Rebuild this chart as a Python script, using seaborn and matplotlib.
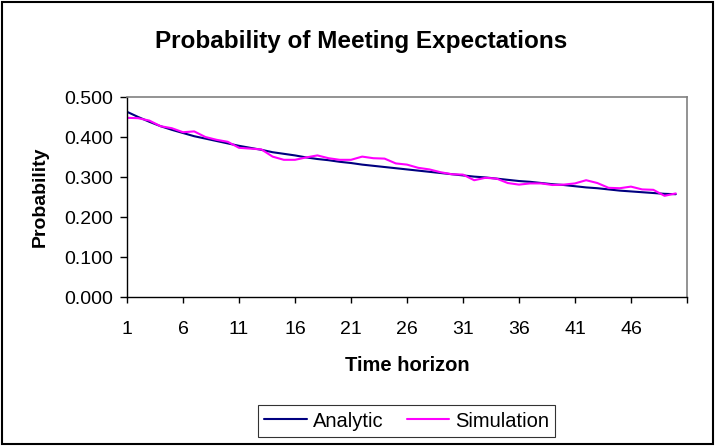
import pandas as pd
import numpy as np
import matplotlib
matplotlib.use("Agg")
import matplotlib.pyplot as plt
import seaborn as sns
from matplotlib.patches import Rectangle
from matplotlib.ticker import FormatStrFormatter

# values
horizon = list(range(1, 51))
analytic = [0.463, 0.450, 0.438, 0.427, 0.418, 0.410, 0.402, 0.396, 0.390, 0.384,
            0.378, 0.373, 0.368, 0.362, 0.358, 0.354, 0.349, 0.345, 0.342, 0.338,
            0.335, 0.331, 0.328, 0.325, 0.322, 0.319, 0.316, 0.313, 0.310, 0.307,
            0.304, 0.301, 0.299, 0.296, 0.293, 0.290, 0.288, 0.285, 0.282, 0.280,
            0.277, 0.274, 0.272, 0.269, 0.266, 0.264, 0.262, 0.260, 0.258, 0.257]
simulation = [0.448, 0.447, 0.441, 0.427, 0.422, 0.412, 0.414, 0.400, 0.393, 0.388,
              0.373, 0.371, 0.369, 0.351, 0.343, 0.343, 0.349, 0.354, 0.347, 0.343,
              0.343, 0.351, 0.347, 0.346, 0.334, 0.331, 0.323, 0.319, 0.312, 0.307,
              0.306, 0.292, 0.298, 0.296, 0.285, 0.281, 0.284, 0.284, 0.280, 0.281,
              0.284, 0.292, 0.285, 0.273, 0.272, 0.276, 0.269, 0.268, 0.253, 0.259]
series_names = ["Analytic", "Simulation"]
series_colors = ["#000080", "#FF00FF"]

df = pd.DataFrame({"horizon": horizon * 2,
                   "prob": analytic + simulation,
                   "series": ["Analytic"] * 50 + ["Simulation"] * 50})

sns.set_style("white")
plt.rcParams['font.family'] = ['Liberation Sans', 'DejaVu Sans']
plt.rcParams.update({'text.color': 'black', 'axes.labelcolor': 'black',
                     'xtick.color': 'black', 'ytick.color': 'black'})

fig = plt.figure(figsize=(7.16, 4.46), dpi=100)
ax = fig.add_axes([0.1774, 0.334, 0.782, 0.4485])

sns.lineplot(data=df, x="horizon", y="prob", hue="series", hue_order=series_names,
             palette=series_colors, linewidth=1.5, ax=ax, legend=False)

ax.set_xlim(1, 51)
ax.set_ylim(0, 0.5)
ax.set_xticks(range(1, 52, 5))
ax.set_xticklabels([str(t) for t in range(1, 47, 5)] + [""])
ax.set_yticks(np.arange(0, 0.51, 0.1))
ax.yaxis.set_major_formatter(FormatStrFormatter('%.3f'))
ax.tick_params(axis='x', direction='out', length=4, width=1, labelsize=14, pad=13, bottom=True)
ax.tick_params(axis='y', direction='out', length=5, width=1, labelsize=14, pad=5, left=True)

for side in ['left', 'bottom']:
    ax.spines[side].set_color('black')
    ax.spines[side].set_linewidth(1)
for side in ['top', 'right']:
    ax.spines[side].set_color('#808080')
    ax.spines[side].set_linewidth(1.2)
    ax.spines[side].set_visible(True)

ax.set_xlabel("Time horizon", fontsize=14.5, fontweight='bold')
ax.xaxis.set_label_coords(0.5, -0.34)
ax.xaxis.label.set_va('center')
ax.set_ylabel("Probability", fontsize=14, fontweight='bold')
ax.yaxis.set_label_coords(-0.155, 0.5)
ax.yaxis.label.set_va('center')
ax.yaxis.label.set_ha('center')

fig.text(0.504, 0.892, "Probability of Meeting Expectations", fontsize=17.5,
         fontweight='bold', ha='center', va='baseline')

handles = [plt.Line2D([], [], color=c, lw=1.5) for c in series_colors]
leg = fig.legend(handles, series_names, loc='center', bbox_to_anchor=(0.568, 0.056),
                 ncol=2, fontsize=14.5, frameon=True, fancybox=False, edgecolor='black',
                 handlelength=2.1, handletextpad=0.3, columnspacing=1.15, borderpad=0.3)
leg.get_frame().set_linewidth(0.8)

fig.patches.append(Rectangle((0.003, 0.004), 0.993, 0.992, transform=fig.transFigure,
                             fill=False, edgecolor='black', linewidth=1.5))

fig.savefig("out.png", dpi=100)
